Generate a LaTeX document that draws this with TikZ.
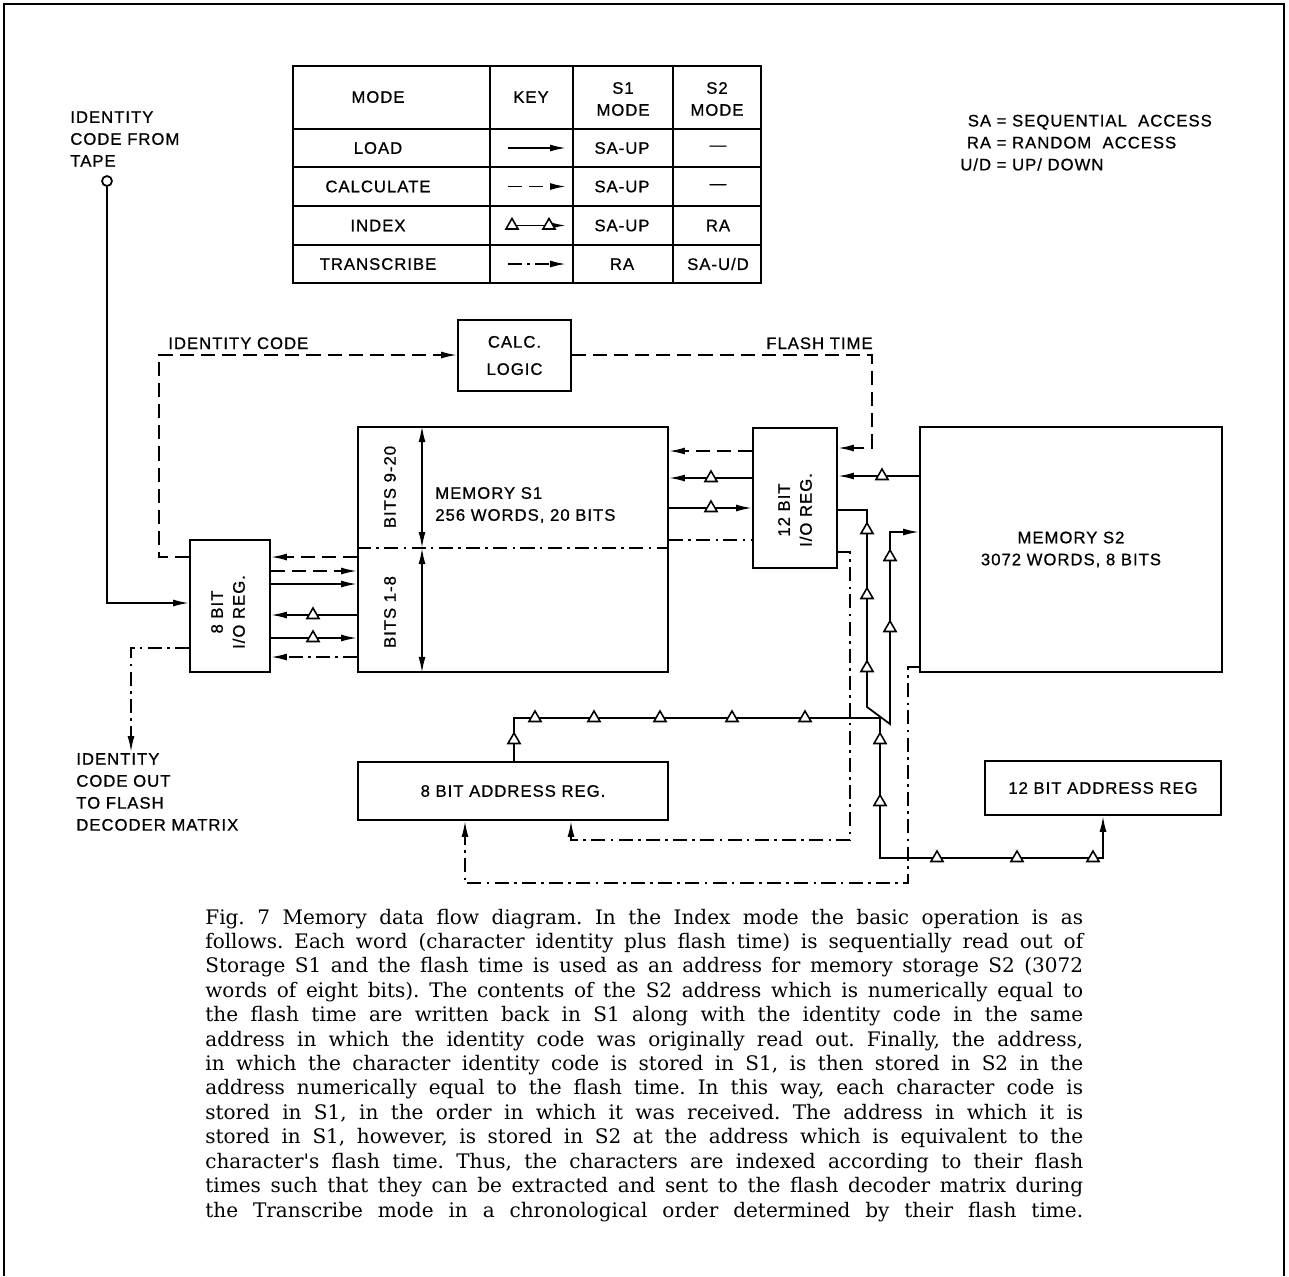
\documentclass[tikz,border=0pt]{standalone}
\usepackage{fontspec}
\usetikzlibrary{arrows.meta,shapes.geometric}
\newfontfamily\lblfont[LetterSpace=6,FakeBold=0.8]{Liberation Sans}
\newfontfamily\capfont{DejaVu Serif}
\newcommand{\lblsize}{\lblfont\fontsize{9.5}{12.5}\selectfont}

\begin{document}
\begin{tikzpicture}[x=0.02cm, y=-0.02cm,
  every node/.style={font=\lblsize, inner sep=0pt},
  blk/.style={draw, line width=1.1pt, align=center},
  ln/.style={line width=1pt},
  dsh/.style={ln, dash pattern=on 8pt off 4pt},
  dshdot/.style={ln, dash pattern=on 8pt off 3pt on 1.5pt off 3pt},
  headend/.style={-{Latex[length=3.2mm,width=1.4mm]}},
  dimline/.style={ln, {Latex[length=3.2mm,width=1.4mm]}-{Latex[length=3.2mm,width=1.4mm]}},
  tri/.style={draw, fill=white, regular polygon, regular polygon sides=3, minimum size=0.28cm, line width=0.9pt},
]
  \useasboundingbox (0,0) rectangle (1289,1276);
  % page frame
  \draw[line width=1.4pt] (4,1276) -- (4,4) -- (1284,4) -- (1284,1276);

  % mode table
  \draw[line width=1.2pt] (293,66) rectangle (761,283);
  \foreach \x in {490,573,673} \draw[line width=1.2pt] (\x,66) -- (\x,283);
  \foreach \y in {129,167,206,245} \draw[line width=1.2pt] (293,\y) -- (761,\y);
  \node (hmode) at (378,97) {MODE};
  \node (hkey) at (531,97) {KEY};
  \node[align=center] (hsone) at (623,99) {S1\\MODE};
  \node[align=center] (hstwo) at (717,99) {S2\\MODE};
  \foreach \n/\y/\m/\a/\b in {load/148/LOAD/SA-UP/—, calc/186.5/CALCULATE/SA-UP/—,
      index/225.5/INDEX/SA-UP/RA, trans/264/TRANSCRIBE/RA/{SA-U/D}} {
    \node (m\n) at (378,\y) {\m};
    \node (a\n) at (622,\y) {\a};
    \node (b\n) at (718,\y) {\b};
  }
  % key column
  \foreach \n/\y/\sty in {load/148/ln, calc/186.5/dsh, index/225.5/ln, trans/264/dshdot} {
    \coordinate (k\n a) at (508,\y);
    \coordinate (k\n b) at (566,\y);
    \draw[\sty, headend] (k\n a) -- (k\n b);
  }
  \node[tri] (kt1) at (512,225.5) {};
  \node[tri] (kt2) at (549,225.5) {};

  % legend
  \node[anchor=west] (legend) at (960,144) {\begin{tabular}{@{}r@{ = }l@{}}
    SA & SEQUENTIAL\ \ ACCESS\\ RA & RANDOM\ \ ACCESS\\ U/D & UP/ DOWN\end{tabular}};

  % blocks
  \node[blk, minimum width=2.26cm, minimum height=1.42cm] (calc) at (514.5,355.5) {CALC.\\[3pt]LOGIC};
  \node[blk, minimum width=1.6cm, minimum height=2.64cm] (io8) at (230,606) {};
  \node[rotate=90, align=center] (io8txt) at (228,612) {8 BIT\\I/O REG.};
  \node[blk, minimum width=6.2cm, minimum height=4.9cm] (s1) at (513,549.5) {};
  \node[anchor=west, align=left] (s1txt) at (435,505) {MEMORY S1\\256 WORDS, 20 BITS};
  \node[rotate=90] (bhi) at (390,487) {BITS 9-20};
  \node[rotate=90] (blo) at (390,612) {BITS 1-8};
  \node[blk, minimum width=1.68cm, minimum height=2.8cm] (io12) at (795,498) {};
  \node[rotate=90, align=center] (io12txt) at (795,510) {12 BIT\\I/O REG.};
  \node[blk, minimum width=6.04cm, minimum height=4.9cm] (s2) at (1071,549.5) {MEMORY S2\\3072 WORDS, 8 BITS};
  \node[blk, minimum width=6.2cm, minimum height=1.16cm] (ar8) at (513,791) {8 BIT ADDRESS REG.};
  \node[blk, minimum width=4.72cm, minimum height=1.08cm] (ar12) at (1103,788) {12 BIT ADDRESS REG};

  % outside labels
  \node[draw, circle, minimum size=0.2cm, line width=1pt] (tape) at (107,181) {};
  \node[anchor=west, align=left] (src) at (70,139) {IDENTITY\\CODE FROM\\TAPE};
  \node[anchor=west, align=left] (dst) at (76,792) {IDENTITY\\CODE OUT\\TO FLASH\\DECODER MATRIX};
  \node[anchor=base west] (idlbl) at (168,349) {IDENTITY CODE};
  \node[anchor=base west] (ftlbl) at (766,349) {FLASH TIME};
  \coordinate (out) at (131,752);

  % load / calculate paths
  \draw[ln, headend] (tape.south) |- (io8.west |- 0,603);
  \draw[dsh, headend] (io8.west |- 0,557) -- (159,557) -- (159,355) -- (calc.west |- 0,355);
  \draw[dsh, headend] (calc.east |- 0,355) -- (872,355) -- (872,448) -- (io12.east |- 0,448);
  \draw[dshdot, headend] (io8.west |- 0,648) -| (out);

  % 8 bit I/O to S1
  \draw[dsh, headend] (s1.west |- 0,557) -- (io8.east |- 0,557);
  \draw[dsh, headend] (io8.east |- 0,571) -- (s1.west |- 0,571);
  \draw[ln, headend] (io8.east |- 0,584) -- (s1.west |- 0,584);
  \draw[ln, headend] (s1.west |- 0,615) -- (io8.east |- 0,615);
  \draw[ln, headend] (io8.east |- 0,638) -- (s1.west |- 0,638);
  \draw[dshdot, headend] (s1.west |- 0,657) -- (io8.east |- 0,657);

  % S1 word split
  \coordinate (dtop) at (s1.north -| 422,0);
  \coordinate (dmid) at (422,548);
  \coordinate (dbot) at (s1.south -| 422,0);
  \draw[dshdot] (s1.west |- dmid) -- (s1.east |- dmid);
  \draw[dimline] (dtop) -- (dmid);
  \draw[dimline] (dmid) -- (dbot);

  % S1 to 12 bit I/O
  \draw[dsh, headend] (io12.west |- 0,451) -- (s1.east |- 0,451);
  \draw[ln, headend] (io12.west |- 0,478) -- (s1.east |- 0,478);
  \draw[ln, headend] (s1.east |- 0,508) -- (io12.west |- 0,508);
  \draw[dshdot] (s1.east |- 0,540) -- (io12.west |- 0,540);

  % 12 bit I/O to S2
  \draw[ln, headend] (s2.west |- 0,476) -- (io12.east |- 0,476);
  \draw[ln, headend] (io12.east |- 0,510) -- (867,510) -- (867,707) -- (890,724) -- (890,532) -- (s2.west |- 0,532);
  \draw[ln, headend] (ar8.north -| 514,0) -- (514,718) -- (880,718) -- (880,858) -- (1103,858) -- (ar12.south);

  % transcribe to address reg
  \draw[dshdot, headend] (io12.east |- 0,552) -- (850,552) -- (850,840) -- (571,840) -- (ar8.south -| 571,0);
  \draw[dshdot, headend] (s2.west |- 0,667) -- (908,667) -- (908,883) -- (465,883) -- (ar8.south -| 465,0);

  % index markers
  \foreach \p [count=\i] in {{313,615},{313,638},{711,478},{711,508},{882,476},
      {867,530},{867,595},{867,668},{890,557},{890,628},{514,740},{535,718},
      {594,718},{660,718},{732,718},{805,718},{880,740},{880,802},{937,858},
      {1017,858},{1093,858}}
    \node[tri] (d\i) at (\p) {};

  % caption
  \node[anchor=base west, text width=17.56cm, align=justify,
        font=\capfont\fontsize{11.4}{13.9}\selectfont] (cap) at (205,924) {%
    \frenchspacing\tolerance=10000
    Fig. 7 Memory data flow diagram. In the Index mode the basic operation is as\linebreak
    follows. Each word (character identity plus flash time) is sequentially read out of\linebreak
    Storage S1 and the flash time is used as an address for memory storage S2 (3072\linebreak
    words of eight bits). The contents of the S2 address which is numerically equal to\linebreak
    the flash time are written back in S1 along with the identity code in the same\linebreak
    address in which the identity code was originally read out. Finally, the address,\linebreak
    in which the character identity code is stored in S1, is then stored in S2 in the\linebreak
    address numerically equal to the flash time. In this way, each character code is\linebreak
    stored in S1, in the order in which it was received. The address in which it is\linebreak
    stored in S1, however, is stored in S2 at the address which is equivalent to the\linebreak
    character's flash time. Thus, the characters are indexed according to their flash\linebreak
    times such that they can be extracted and sent to the flash decoder matrix during\linebreak
    the Transcribe mode in a chronological order determined by their flash time.%
    \parfillskip=0pt\par};
\end{tikzpicture}
\end{document}
